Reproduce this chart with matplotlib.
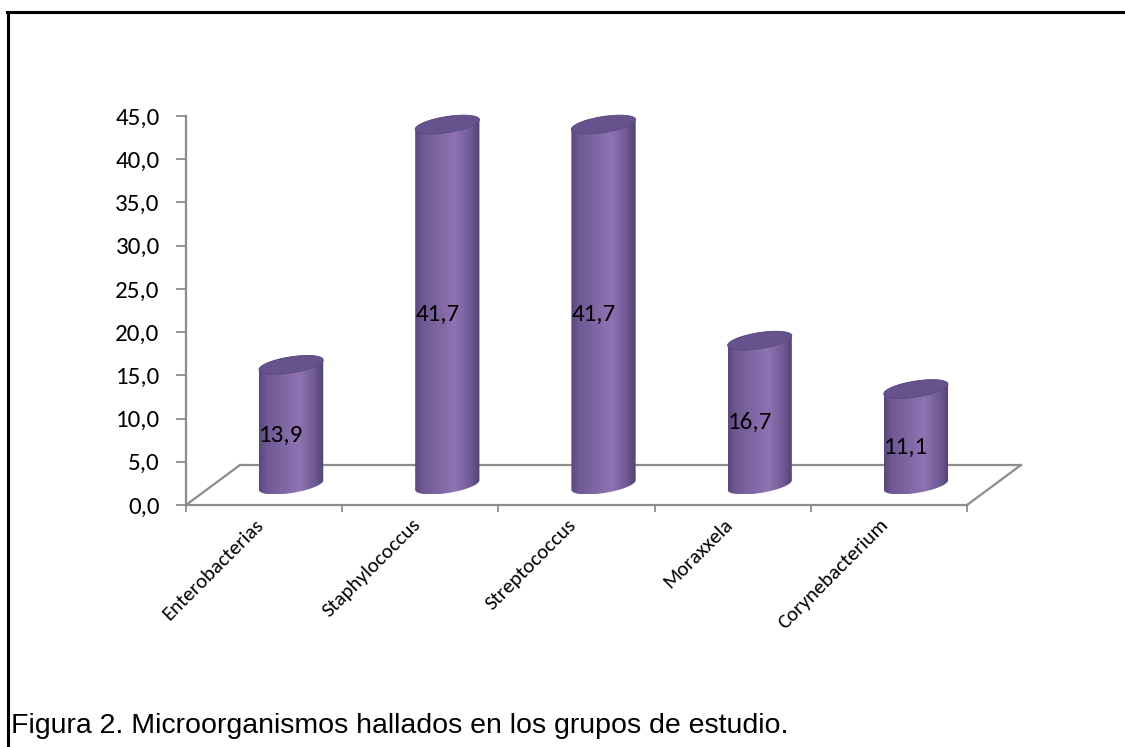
import numpy as np
import matplotlib
matplotlib.use("Agg")
import matplotlib.pyplot as plt
from matplotlib.colors import LinearSegmentedColormap
from matplotlib.patches import Polygon
from matplotlib.lines import Line2D
from matplotlib.transforms import ScaledTranslation
from matplotlib import font_manager

# ---------------- data ----------------
categories = ["Enterobacterias", "Staphylococcus", "Streptococcus", "Moraxxela", "Corynebacterium"]
values = [13.9, 41.7, 41.7, 16.7, 11.1]
y_ticks = [0, 5, 10, 15, 20, 25, 30, 35, 40, 45]
caption = "Figura 2. Microorganismos hallados en los grupos de estudio."

W, H, DPI = 1125, 747, 100
fig = plt.figure(figsize=(W / DPI, H / DPI), dpi=DPI)
fig.patch.set_facecolor("white")

avail = {f.name for f in font_manager.fontManager.ttflist}
tick_font = [f for f in ["Carlito", "Lato", "DejaVu Sans"] if f in avail]
cap_font = [f for f in ["Liberation Sans Narrow", "Liberation Sans", "DejaVu Sans"] if f in avail]

# axes in front plane of the 3D box
ax = fig.add_axes([186 / W, (H - 505) / H, (967 - 186) / W, (505 - 116) / H])
ax.set_xlim(-0.5, len(categories) - 0.5)
ax.set_ylim(0, 45)
ax.patch.set_alpha(0)
gray = "#8c8c8c"
for s in ["top", "right"]:
    ax.spines[s].set_visible(False)
ax.spines["left"].set_color(gray)
ax.spines["bottom"].set_color(gray)
ax.spines["left"].set_linewidth(1.6)
ax.spines["bottom"].set_linewidth(1.6)
ax.set_yticks(y_ticks)
ax.set_yticklabels([f"{t:.1f}".replace(".", ",") for t in y_ticks],
                   fontsize=18, family=tick_font)
ax.tick_params(axis="y", direction="out", length=7, width=1.3, color=gray, pad=12)
ax.set_xticks(np.arange(-0.5, len(categories) + 0.5, 1.0))
ax.set_xticklabels([])
ax.tick_params(axis="x", direction="out", length=5, width=1.3, color=gray)

fig.canvas.draw()
p0 = ax.transData.transform((0, 0))
p1 = ax.transData.transform((1, 1))
sx = p1[0] - p0[0]   # px per category unit
sy = p1[1] - p0[1]   # px per value unit

depth_x, depth_y = 54, 40   # floor depth offset in px
ddx, ddy = depth_x / sx, depth_y / sy
x0, x1 = -0.5, len(categories) - 0.5

# floor outline (back edge and sides)
floor_kw = dict(color=gray, lw=1.6, clip_on=False, zorder=1)
ax.add_line(Line2D([x0 + ddx, x1 + ddx], [ddy, ddy], **floor_kw))
ax.add_line(Line2D([x0, x0 + ddx], [0, ddy], **floor_kw))
ax.add_line(Line2D([x1, x1 + ddx], [0, ddy], **floor_kw))

# cylinder shading
cmap = LinearSegmentedColormap.from_list("cyl", [
    (0.00, (0.35, 0.28, 0.48)),
    (0.12, (0.43, 0.35, 0.58)),
    (0.45, (0.52, 0.42, 0.66)),
    (0.62, (0.56, 0.45, 0.70)),
    (0.85, (0.44, 0.36, 0.59)),
    (1.00, (0.32, 0.26, 0.44)),
])
top_color = (0.40, 0.32, 0.55)

a_px, b_px, theta = 32.5, 8.0, np.deg2rad(9)
t = np.linspace(0, 2 * np.pi, 361)[:-1]
ex = a_px * np.cos(t) * np.cos(theta) - b_px * np.sin(t) * np.sin(theta)
ey = a_px * np.cos(t) * np.sin(theta) + b_px * np.sin(t) * np.cos(theta)
il, ir = int(np.argmin(ex)), int(np.argmax(ex))
idx_lower = [(il + k) % len(t) for k in range((ir - il) % len(t) + 1)]
idx_upper = [(ir + k) % len(t) for k in range((il - ir) % len(t) + 1)]

gradient = np.linspace(0, 1, 256).reshape(1, -1)
for i, v in enumerate(values):
    cx = i + (depth_x / 2) / sx
    yb = (depth_y / 2) / sy
    yt = v + yb
    bx = cx + ex / sx
    byb = yb + ey / sy
    byt = yt + ey / sy
    body = np.vstack([
        np.column_stack([bx[idx_lower], byb[idx_lower]]),
        np.column_stack([bx[idx_upper], byt[idx_upper]]),
    ])
    poly = Polygon(body, closed=True, facecolor="none", edgecolor="none",
                   clip_on=False)
    ax.add_patch(poly)
    im = ax.imshow(gradient, cmap=cmap, aspect="auto",
                   extent=[bx.min(), bx.max(), byb.min(), byt.max()],
                   zorder=2, interpolation="bilinear")
    im.set_clip_path(poly)
    top = Polygon(np.column_stack([bx, byt]), closed=True, facecolor=top_color,
                  edgecolor=(0.36, 0.29, 0.50), lw=0.6, zorder=3, clip_on=False)
    ax.add_patch(top)
    ax.text(i, v / 2, f"{v:.1f}".replace(".", ","), fontsize=18, family=tick_font,
            ha="center", va="center", color="black", zorder=5, clip_on=False,
            transform=ax.transData + ScaledTranslation(17 / DPI, 10 / DPI, fig.dpi_scale_trans))

ax.set_xlim(x0, x1)
ax.set_ylim(0, 45)

# category labels
for i, c in enumerate(categories):
    ax.text(i, 0, c, fontsize=15, family=tick_font, rotation=45,
            rotation_mode="anchor", ha="right", va="center", clip_on=False,
            transform=ax.transData + ScaledTranslation(-3 / DPI, -17 / DPI, fig.dpi_scale_trans))

# document frame and caption
fig.add_artist(Line2D([7 / W, 1.0], [(H - 12) / H] * 2, color="black", lw=2.2,
                      transform=fig.transFigure))
fig.add_artist(Line2D([8 / W, 8 / W], [0, (H - 12) / H], color="black", lw=2.2,
                      transform=fig.transFigure))
fig.text(11 / W, (H - 733) / H, caption, fontsize=20.5, family=cap_font,
         ha="left", va="baseline", color="black")

fig.savefig("out.png", dpi=DPI)
